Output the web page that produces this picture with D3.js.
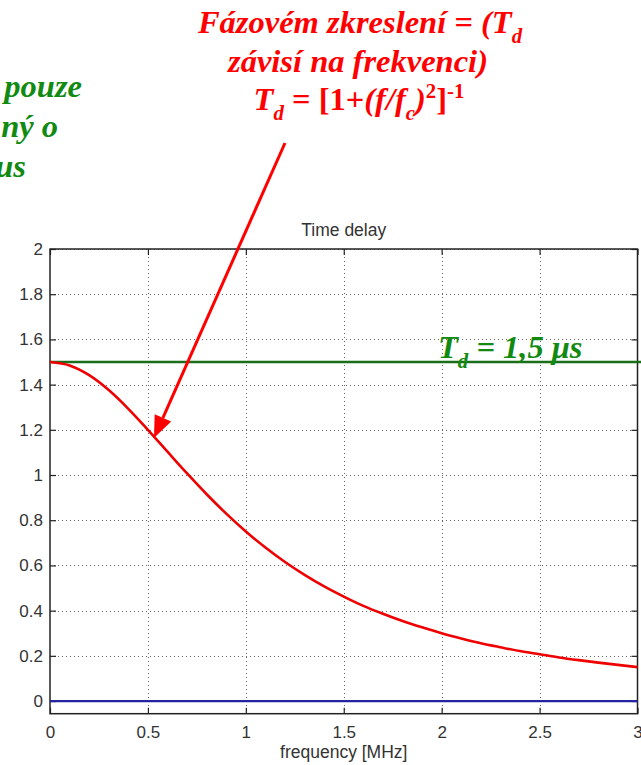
<!DOCTYPE html>
<html><head><meta charset="utf-8">
<script src="https://cdn.jsdelivr.net/npm/d3@7"></script>
<style>
html,body{margin:0;padding:0;background:#fff;}
svg{display:block;}
</style></head>
<body>
<svg id="c" width="641" height="765"></svg>
<script>
// ---- data ----
const freq = [0,0.1,0.2,0.3,0.4,0.5,0.6,0.7,0.8,0.9,1.0,1.1,1.2,1.3,1.4,1.5,1.6,1.7,1.8,1.9,2.0,2.1,2.2,2.3,2.4,2.5,2.6,2.7,2.8,2.9,3.0];
const delay = [1.5,1.485,1.442,1.376,1.293,1.2,1.103,1.007,0.915,0.829,0.75,0.679,0.615,0.558,0.507,0.462,0.421,0.386,0.354,0.326,0.3,0.277,0.256,0.238,0.221,0.207,0.193,0.181,0.17,0.16,0.15];
const constDelay = 1.5;
const zeroLine = 0;
const xTicks = [0,0.5,1,1.5,2,2.5,3];
const yTicks = [0,0.2,0.4,0.6,0.8,1,1.2,1.4,1.6,1.8,2];
const title = "Time delay";
const xLabel = "frequency [MHz]";
const arrowFrom = [1.2, 2.469];
const arrowTo = [0.531, 1.164];

// ---- layout ----
const svg = d3.select("#c");
const L = 50, R = 637.5, T = 249, B = 713.7;
const x = d3.scaleLinear().domain([0,3]).range([L,R]);
const y = d3.scaleLinear().domain([-0.056,2]).range([B,T]);
const chartFont = "'Liberation Sans', Arial, sans-serif";
const txtCol = "#333";

// grid
const g = svg.append("g");
g.selectAll("line.gx").data(xTicks.slice(1,-1)).join("line")
  .attr("x1",d=>Math.round(x(d))+0.5).attr("x2",d=>Math.round(x(d))+0.5).attr("y1",T).attr("y2",B)
  .attr("stroke","#666").attr("stroke-width",1).attr("stroke-dasharray","1,3");
g.selectAll("line.gy").data(yTicks).join("line")
  .attr("y1",d=>Math.round(y(d))+0.5).attr("y2",d=>Math.round(y(d))+0.5).attr("x1",L).attr("x2",R)
  .attr("stroke","#666").attr("stroke-width",1).attr("stroke-dasharray","1,3");

// axes (inward ticks, MATLAB style)
const axB = d3.axisBottom(x).tickValues(xTicks).tickSize(-6).tickPadding(12).tickFormat(d3.format("~g"));
const axL = d3.axisLeft(y).tickValues(yTicks).tickSize(-6).tickPadding(7).tickFormat(d3.format("~g"));
const axT = d3.axisTop(x).tickValues(xTicks).tickSize(-6).tickFormat("");
const axR = d3.axisRight(y).tickValues(yTicks).tickSize(-6).tickFormat("");
function style(sel){
  sel.select(".domain").remove();
  sel.selectAll(".tick line").attr("stroke","#222").attr("stroke-width",1.2);
  sel.selectAll(".tick text").attr("fill",txtCol).style("font-family",chartFont).style("font-size","17px");
}
svg.append("g").attr("transform",`translate(0,${B})`).call(axB).call(style);
svg.append("g").attr("transform",`translate(${L},0)`).call(axL).call(style);
svg.append("g").attr("transform",`translate(0,${T})`).call(axT).call(style);
svg.append("g").attr("transform",`translate(${R},0)`).call(axR).call(style);

// box
svg.append("rect").attr("x",L).attr("y",T).attr("width",R-L).attr("height",B-T)
  .attr("fill","none").attr("stroke","#222").attr("stroke-width",1.5);

// lines
svg.append("line").attr("x1",x(0)).attr("x2",x(3)).attr("y1",y(zeroLine)).attr("y2",y(zeroLine))
  .attr("stroke","#2424a0").attr("stroke-width",2.2);
svg.append("line").attr("x1",x(0)).attr("x2",641).attr("y1",y(constDelay)).attr("y2",y(constDelay))
  .attr("stroke","#1a6e1a").attr("stroke-width",2.5);
const line = d3.line().x((d,i)=>x(freq[i])).y(d=>y(d)).curve(d3.curveMonotoneX);
svg.append("path").datum(delay).attr("d",line).attr("fill","none")
  .attr("stroke","#ee0000").attr("stroke-width",2.6);

// title & x label
svg.append("text").attr("x",x(1.5)).attr("y",236).attr("text-anchor","middle")
  .attr("fill",txtCol).style("font-family",chartFont).style("font-size","17.5px").text(title);
svg.append("text").attr("x",x(1.5)).attr("y",758).attr("text-anchor","middle")
  .attr("fill",txtCol).style("font-family",chartFont).style("font-size","17.5px").text(xLabel);

// arrow
const ax0 = x(arrowFrom[0]), ay0 = y(arrowFrom[1]), ax1 = x(arrowTo[0]), ay1 = y(arrowTo[1]);
const ang = Math.atan2(ay1-ay0, ax1-ax0);
const hl = 22, hw = 9;
const bx = ax1 - hl*Math.cos(ang), by = ay1 - hl*Math.sin(ang);
svg.append("line").attr("x1",ax0).attr("y1",ay0).attr("x2",bx).attr("y2",by)
  .attr("stroke","#ff0000").attr("stroke-width",3);
svg.append("path").attr("fill","#ff0000").attr("d",
  `M${ax1},${ay1}L${bx + hw*Math.sin(ang)},${by - hw*Math.cos(ang)}L${bx - hw*Math.sin(ang)},${by + hw*Math.cos(ang)}Z`);

// annotation texts
const serif = "'Liberation Serif','Times New Roman',serif";
function ann(xp, yp, anchor, color, parts, size){
  const t = svg.append("text").attr("x",xp).attr("y",yp).attr("text-anchor",anchor)
    .attr("fill",color).style("font-family",serif).style("font-weight","bold")
    .style("font-style","italic").style("font-size",size+"px");
  let shift = 0;
  parts.forEach(p=>{
    const s = typeof p === "string" ? {t:p, k:0} : p;
    const target = s.k === 1 ? size*0.3 : s.k === -1 ? -size*0.36 : 0;
    const ts = t.append("tspan").attr("dy", target - shift).text(s.t);
    if (s.k) ts.style("font-size",(size*0.64)+"px");
    if (s.up) ts.style("font-style","normal");
    shift = target;
  });
  return t;
}
const red = "#ff0000", green = "#118a11";
const fs = 32.5;
ann(360, 33, "middle", red, ["Fázovém zkreslení  = (T", {t:"d",k:1}], fs);
ann(358, 72, "middle", red, ["závisí na frekvenci)"], fs);
ann(359, 110, "middle", red, ["T", {t:"d",k:1}, {t:" = [1+",up:true}, "(f/f", {t:"c",k:1}, ")", {t:"2",k:-1,up:true}, {t:"]",up:true}, {t:"-1",k:-1,up:true}], fs);

ann(82, 97, "end", green, ["pouze"], fs);
ann(58, 137, "end", green, ["ný o"], fs);
ann(26, 177, "end", green, ["μs"], fs);
ann(438, 358, "start", green, ["T", {t:"d",k:1}, " = 1,5 μs"], fs);
</script>
</body></html>
